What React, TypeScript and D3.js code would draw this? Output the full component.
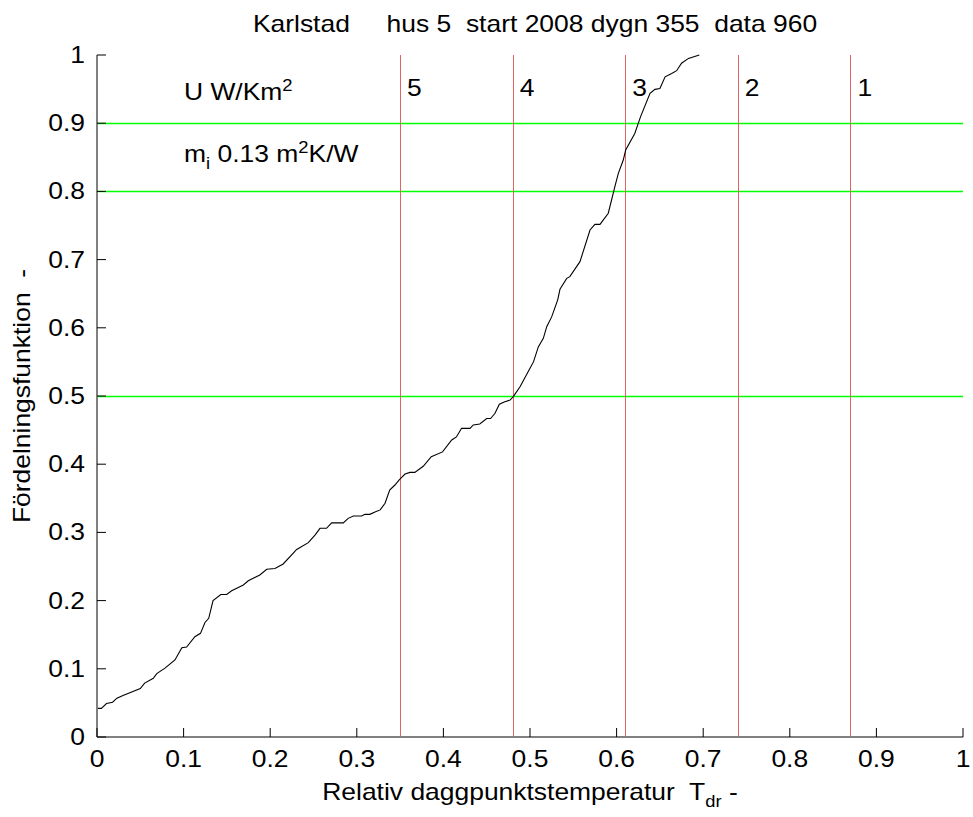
import React from "react";
import * as d3 from "d3";

const curveX = [0, 0.005, 0.011, 0.018, 0.023, 0.03, 0.05, 0.055, 0.065, 0.069, 0.0785, 0.09, 0.098, 0.1035, 0.113, 0.1195, 0.1247, 0.129, 0.134, 0.143, 0.1497, 0.1555, 0.169, 0.1747, 0.188, 0.196, 0.2055, 0.215, 0.2306, 0.244, 0.2517, 0.2575, 0.265, 0.271, 0.2844, 0.29, 0.296, 0.3056, 0.3095, 0.315, 0.321, 0.327, 0.3326, 0.338, 0.344, 0.349, 0.3557, 0.3614, 0.367, 0.3767, 0.386, 0.399, 0.4096, 0.415, 0.421, 0.4307, 0.4345, 0.442, 0.45, 0.4545, 0.4596, 0.4646, 0.471, 0.477, 0.4807, 0.4885, 0.5, 0.504, 0.5096, 0.5154, 0.5193, 0.525, 0.532, 0.5346, 0.5424, 0.546, 0.5577, 0.5693, 0.575, 0.5808, 0.5904, 0.598, 0.602, 0.6077, 0.6105, 0.621, 0.6277, 0.6386, 0.6443, 0.65, 0.656, 0.6636, 0.6693, 0.675, 0.683, 0.6955];
const curveY = [0.042, 0.042, 0.049, 0.051, 0.057, 0.061, 0.071, 0.079, 0.086, 0.093, 0.101, 0.113, 0.131, 0.132, 0.147, 0.152, 0.168, 0.174, 0.2, 0.209, 0.209, 0.2145, 0.223, 0.229, 0.2375, 0.246, 0.247, 0.2537, 0.275, 0.285, 0.296, 0.306, 0.306, 0.314, 0.314, 0.3206, 0.324, 0.324, 0.3265, 0.3265, 0.33, 0.333, 0.3427, 0.362, 0.3695, 0.377, 0.3856, 0.388, 0.388, 0.397, 0.411, 0.418, 0.4355, 0.44, 0.4526, 0.4526, 0.4575, 0.459, 0.467, 0.467, 0.4746, 0.488, 0.4917, 0.494, 0.499, 0.5136, 0.5406, 0.55, 0.572, 0.5846, 0.6016, 0.616, 0.641, 0.6565, 0.6725, 0.675, 0.697, 0.7434, 0.7517, 0.7517, 0.768, 0.807, 0.8265, 0.846, 0.8607, 0.885, 0.9096, 0.9437, 0.9496, 0.951, 0.968, 0.973, 0.977, 0.988, 0.995, 1.0];

const xTicks = [0, 0.1, 0.2, 0.3, 0.4, 0.5, 0.6, 0.7, 0.8, 0.9, 1];
const yTicks = [0, 0.1, 0.2, 0.3, 0.4, 0.5, 0.6, 0.7, 0.8, 0.9, 1];
const classLines = [0.35, 0.48, 0.61, 0.74, 0.87];
const classLabels = ["5", "4", "3", "2", "1"];
const greenLevels = [0.9, 0.8, 0.5];

const titleText = "Karlstad     hus 5  start 2008 dygn 355  data 960";
const yLabelText = "Fördelningsfunktion  -";

const SX = 1.15;
const FS = 23;

function T(props: { x: number; y: number; anchor?: string; rotate?: number; children: React.ReactNode; dy?: string }) {
  const { x, y, anchor, rotate, children, dy } = props;
  const tr = `translate(${x},${y})` + (rotate ? ` rotate(${rotate})` : "") + ` scale(${SX},1)`;
  return (
    <text transform={tr} textAnchor={anchor || "start"} fontSize={FS} dy={dy} style={{ whiteSpace: "pre" }}>
      {children}
    </text>
  );
}

export default function App() {
  const W = 973, H = 817;
  const left = 97, right = 963, top = 55, bottom = 737;
  const x = d3.scaleLinear().domain([0, 1]).range([left, right]);
  const y = d3.scaleLinear().domain([0, 1]).range([bottom, top]);
  const pts: [number, number][] = curveX.map((v, i) => [v, curveY[i]]);
  const line = d3.line<[number, number]>().x(d => x(d[0])).y(d => y(d[1]));
  const font = "'Liberation Sans', Arial, sans-serif";
  return (
    <svg width={W} height={H} style={{ position: "absolute", left: 0, top: 0, background: "#fff" }} fontFamily={font}>
      <rect x={0} y={0} width={W} height={H} fill="#fff" />
      {greenLevels.map(g => (
        <line key={"g" + g} x1={left} x2={right} y1={Math.round(y(g)) + 0.5} y2={Math.round(y(g)) + 0.5} stroke="#00ff00" strokeWidth={1.3} />
      ))}
      {classLines.map((c, i) => (
        <g key={"c" + c}>
          <line x1={Math.round(x(c)) + 0.5} x2={Math.round(x(c)) + 0.5} y1={top} y2={bottom} stroke="#e06464" strokeWidth={1} />
          <T x={x(c) + 7} y={96}>{classLabels[i]}</T>
        </g>
      ))}
      <path d={line(pts) || ""} fill="none" stroke="#000" strokeWidth={1.1} />
      <line x1={left} x2={left} y1={top} y2={bottom} stroke="#808080" strokeWidth={2} />
      <line x1={left} x2={right} y1={bottom} y2={bottom} stroke="#808080" strokeWidth={2} />
      {yTicks.map(t => (
        <g key={"yt" + t}>
          <line x1={left} x2={left + 9} y1={y(t)} y2={y(t)} stroke="#000" strokeWidth={1} />
          <T x={left - 12} y={y(t)} dy="0.35em" anchor="end">{String(t)}</T>
        </g>
      ))}
      {xTicks.map(t => (
        <g key={"xt" + t}>
          <line x1={x(t)} x2={x(t)} y1={bottom} y2={bottom - 9} stroke="#000" strokeWidth={1} />
          <T x={x(t)} y={767} anchor="middle">{String(t)}</T>
        </g>
      ))}
      <T x={184} y={100}>U W/Km<tspan dy={-9} fontSize={16}>2</tspan></T>
      <T x={184} y={162}>m<tspan dy={7} fontSize={16}>i</tspan><tspan dy={-7}> 0.13 m</tspan><tspan dy={-9} fontSize={16}>2</tspan><tspan dy={9}>K/W</tspan></T>
      <T x={(left + right) / 2 + 5} y={32} anchor="middle">{titleText}</T>
      <T x={(left + right) / 2} y={800} anchor="middle">Relativ daggpunktstemperatur  T<tspan dy={7} fontSize={16}>dr</tspan><tspan dy={-7}> -</tspan></T>
      <T x={30} y={(top + bottom) / 2} rotate={-90} anchor="middle">{yLabelText}</T>
    </svg>
  );
}
